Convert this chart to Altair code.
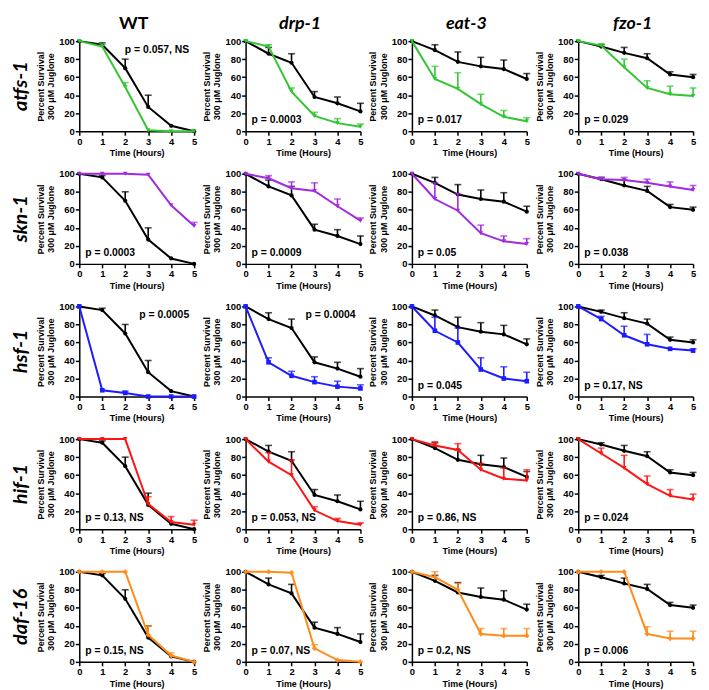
import altair as alt
import pandas as pd

TIMES = [0, 1, 2, 3, 4, 5]
COLUMNS = ["WT", "drp-1", "eat-3", "fzo-1"]
ROWS = ["atfs-1", "skn-1", "hsf-1", "hif-1", "daf-16"]
ROW_COLORS = ["#33c633", "#a02be0", "#1c1cff", "#ff1414", "#ff8c1a"]
ROW_SHAPES = ["triangle-down", "triangle-down", "square", "triangle-down", "cross"]

# control (black) curves, one per column
CTRL_MEAN = [
    [100, 96, 70, 27, 6, 0],
    [100, 86, 76, 38, 31, 22],
    [100, 90, 77, 72, 69, 58],
    [100, 94, 87, 81, 63, 60],
]
CTRL_ERR = [
    [0, 2, 10, 13, 0, 0],
    [0, 7, 10, 6, 7, 9],
    [0, 6, 11, 10, 10, 6],
    [0, 2, 6, 5, 3, 3],
]

# RNAi (coloured) curves [row][column]
MUT_MEAN = [
    [[100, 94, 49, 1, 0, 0], [100, 94, 44, 17, 9, 5], [100, 58, 47, 30, 16, 11], [100, 95, 71, 48, 41, 39]],
    [[100, 100, 100, 99, 65, 42], [100, 95, 84, 81, 64, 48], [100, 72, 59, 34, 25, 22], [100, 94, 93, 90, 86, 82]],
    [[100, 7, 4, 0, 0, 0], [100, 38, 23, 16, 11, 9], [100, 73, 60, 30, 20, 17], [100, 86, 68, 58, 53, 51]],
    [[100, 100, 100, 28, 8, 5], [100, 75, 60, 21, 9, 5], [100, 93, 88, 66, 56, 54], [100, 84, 68, 50, 37, 33]],
    [[100, 100, 100, 30, 7, 0], [100, 100, 99, 15, 2, 0], [100, 94, 80, 31, 29, 29], [100, 100, 100, 31, 26, 26]],
]
MUT_ERR = [
    [[0, 3, 5, 0, 0, 0], [0, 2, 4, 4, 5, 3], [0, 14, 18, 11, 7, 4], [0, 2, 9, 8, 9, 9]],
    [[0, 0, 0, 0, 0, 4], [0, 3, 7, 9, 8, 3], [0, 18, 19, 9, 6, 6], [0, 2, 3, 4, 5, 5]],
    [[0, 0, 2, 0, 0, 0], [0, 5, 5, 6, 6, 4], [0, 15, 16, 13, 13, 10], [0, 3, 10, 11, 0, 2]],
    [[0, 0, 0, 8, 6, 5], [0, 10, 17, 4, 3, 2], [0, 4, 7, 7, 12, 12], [0, 6, 14, 9, 7, 6]],
    [[0, 0, 0, 10, 3, 0], [0, 0, 0, 4, 0, 0], [0, 6, 7, 6, 8, 8], [0, 0, 0, 8, 8, 8]],
]

P_TEXT = [
    ["p = 0.057, NS", "p = 0.0003", "p = 0.017", "p = 0.029"],
    ["p = 0.0003", "p = 0.0009", "p = 0.05", "p = 0.038"],
    ["p = 0.0005", "p = 0.0004", "p = 0.045", "p = 0.17, NS"],
    ["p = 0.13, NS", "p = 0.053, NS", "p = 0.86, NS", "p = 0.024"],
    ["p = 0.15, NS", "p = 0.07, NS", "p = 0.2, NS", "p = 0.006"],
]
P_TOP = [
    [True, False, False, False],
    [False, False, False, False],
    [True, True, False, False],
    [False, False, False, False],
    [False, False, False, False],
]

W, H = 116, 91
FONT = "Liberation Sans"

xs = alt.Scale(domain=[0, 5], nice=False)
ys = alt.Scale(domain=[0, 100], nice=False)
xax = alt.Axis(values=TIMES, title="Time (Hours)", format="d")
yax = alt.Axis(values=[0, 20, 40, 60, 80, 100], title=["Percent Survival", "300 \u03bcM Juglone"])


def series_layers(df, color, shape, size):
    x = alt.X("t:Q", scale=xs, axis=xax)
    y = alt.Y("v:Q", scale=ys, axis=yax)
    base = alt.Chart(df)
    err = base.transform_filter("datum.e > 0")
    rule = err.mark_rule(color=color, strokeWidth=1.6).encode(x=x, y=y, y2="hi:Q")
    cap = err.mark_tick(color=color, orient="horizontal", size=7, thickness=1.6).encode(
        x=x, y=alt.Y("hi:Q", scale=ys, axis=yax))
    line = base.mark_line(color=color, strokeWidth=2).encode(x=x, y=y)
    pts = base.mark_point(color=color, shape=shape, size=size, filled=True, opacity=1).encode(x=x, y=y)
    return [rule, cap, line, pts]


panels = []
for r, rname in enumerate(ROWS):
    for c, cname in enumerate(COLUMNS):
        dc = pd.DataFrame({"t": TIMES, "v": CTRL_MEAN[c], "e": CTRL_ERR[c]})
        dc["hi"] = dc["v"] + dc["e"]
        dm = pd.DataFrame({"t": TIMES, "v": MUT_MEAN[r][c], "e": MUT_ERR[r][c]})
        dm["hi"] = dm["v"] + dm["e"]
        layers = series_layers(dc, "#000000", "circle", 18)
        layers += series_layers(dm, ROW_COLORS[r], ROW_SHAPES[r], 22)
        if P_TOP[r][c]:
            ptxt = alt.Chart(pd.DataFrame({"s": [P_TEXT[r][c]]})).mark_text(
                align="right", baseline="middle", font=FONT, fontWeight="bold", fontSize=10.5, color="#000"
            ).encode(text="s:N", x=alt.value(111), y=alt.value(9))
        else:
            ptxt = alt.Chart(pd.DataFrame({"s": [P_TEXT[r][c]]})).mark_text(
                align="left", baseline="middle", font=FONT, fontWeight="bold", fontSize=10.5, color="#000"
            ).encode(text="s:N", x=alt.value(6), y=alt.value(80))
        layers.append(ptxt)
        if r == 0:
            hdr = alt.Chart(pd.DataFrame({"s": [cname]})).mark_text(
                align="center", baseline="middle", font="Lato", fontWeight="bold", fontSize=18,
                fontStyle="normal" if c == 0 else "italic", color="#000"
            ).encode(text="s:N", x=alt.value(W / 2 - 3), y=alt.value(-17))
            layers.append(hdr)
        if c == 0:
            rl = alt.Chart(pd.DataFrame({"s": [rname]})).mark_text(
                align="center", baseline="middle", font="Lato", fontWeight="bold", fontStyle="italic",
                fontSize=20, angle=270, color="#000"
            ).encode(text="s:N", x=alt.value(-59), y=alt.value(H / 2))
            layers.append(rl)
        panels.append(alt.layer(*layers).properties(width=W, height=H))

chart = alt.concat(*panels, columns=4, spacing={"row": 43, "column": 52}, bounds="flush").properties(
    padding={"left": 3, "top": 4, "right": 4, "bottom": 2}
).configure_view(stroke=None).configure_axis(
    domainColor="#000", domainWidth=1.5, tickColor="#000", tickWidth=1.5, tickSize=4,
    labelFont=FONT, labelFontWeight="bold", labelFontSize=9.5, labelColor="#000", labelPadding=1,
    titleFont=FONT, titleFontWeight="bold", titleFontSize=9, titleColor="#000", grid=False,
).configure_axisY(titleLineHeight=10.5, titlePadding=3, labelOverlap=False).configure_axisX(
    titlePadding=3, labelOverlap=False, labelFlush=False
)

chart.save("out.html", embed_options={"renderer": "svg", "actions": False})
